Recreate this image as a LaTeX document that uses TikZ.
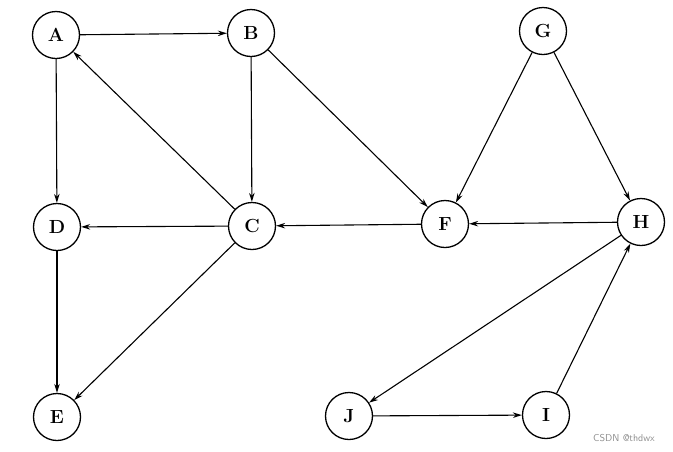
\documentclass[tikz,border=0pt]{standalone}
\usetikzlibrary{arrows.meta}
\tikzset{
  vtx/.style={draw,shape=circle,line width=1.3pt,minimum size=47pt,inner sep=0pt,font=\fontsize{19}{21}\selectfont\bfseries},
  arc/.style={line width=1.1pt,-{Stealth[length=9pt,width=5.5pt]}}
}
\begin{document}
\begin{tikzpicture}[x=1pt,y=-1pt]
	\useasboundingbox (0,0) rectangle (673,451);
	\node[vtx] (A) at (56,35) {A};
	\node[vtx] (B) at (251,33) {B};
	\node[vtx] (G) at (543,31) {G};
	\node[vtx] (D) at (57,227) {D};
	\node[vtx] (C) at (252,226) {C};
	\node[vtx] (F) at (445,224) {F};
	\node[vtx] (H) at (641,222) {H};
	\node[vtx] (E) at (57,417) {E};
	\node[vtx] (J) at (349,416) {J};
	\node[vtx] (I) at (546,415) {I};
	\node[text=black!45,font=\sffamily\fontsize{10}{12}\selectfont] (mark) at (624,438) {CSDN @thdwx};

	\draw[arc] (A)--(B);
	\draw[arc] (A)--(D);
	\draw[arc] (C)--(A);
	\draw[arc] (B)--(C);
	\draw[arc] (B)--(F);
	\draw[arc] (G)--(F);
	\draw[arc] (G)--(H);
	\draw[arc] (C)--(D);
	\draw[arc] (F)--(C);
	\draw[arc] (H)--(F);
	\draw[arc] (D)--(E);
	\draw[arc] (C)--(E);
	\draw[arc] (H)--(J);
	\draw[arc] (J)--(I);
	\draw[arc] (I)--(H);
\end{tikzpicture}
\end{document}
